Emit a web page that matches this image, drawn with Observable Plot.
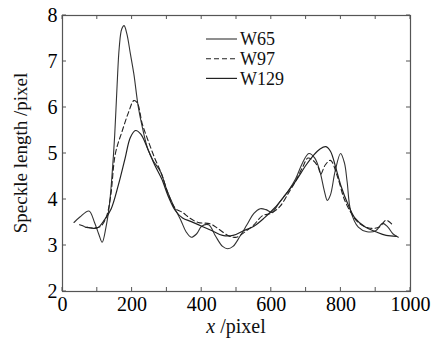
<!DOCTYPE html>
<html>
<head>
<meta charset="utf-8">
<script src="https://cdn.jsdelivr.net/npm/d3@7"></script>
<script src="https://cdn.jsdelivr.net/npm/@observablehq/plot@0.6"></script>
<style>
  html, body { margin: 0; padding: 0; background: #fff; }
</style>
</head>
<body>
<div id="chart"></div>
<script>
const seriesNames = ["W65", "W97", "W129"];

const w65X = [33,50,76,92,104,114,125,135,143,150,157,163,170,177,185,195,205,218,230,245,260,282,300,320,340,355,370,385,400,420,440,460,475,490,510,530,550,568,585,602,620,650,670,690,708,725,740,752,761,770,783,799,810,818,828,850,875,900,920,935,950,965];
const w65Y = [3.50,3.62,3.75,3.50,3.25,3.07,3.40,3.90,4.60,5.40,6.50,7.30,7.70,7.78,7.60,7.17,6.73,6.00,5.55,5.10,4.85,4.60,4.20,3.85,3.55,3.30,3.18,3.25,3.42,3.45,3.20,2.98,2.93,2.98,3.20,3.45,3.70,3.80,3.78,3.72,3.90,4.20,4.45,4.80,5.00,4.90,4.60,4.20,3.98,4.10,4.60,5.00,4.80,4.38,3.76,3.40,3.30,3.32,3.48,3.40,3.25,3.18];

const w97X = [49,70,90,110,125,138,152,172,190,205,215,229,245,265,285,305,325,345,365,390,425,450,480,500,525,550,575,600,625,650,670,690,705,720,735,742,755,770,790,810,830,850,880,910,930,948];
const w97Y = [3.45,3.40,3.38,3.42,3.60,4.05,5.00,5.50,5.90,6.15,6.10,5.65,5.30,4.90,4.55,4.10,3.80,3.72,3.60,3.50,3.47,3.35,3.20,3.18,3.30,3.45,3.65,3.70,3.85,4.15,4.40,4.70,4.90,4.85,4.70,4.55,4.75,4.85,4.50,4.00,3.70,3.50,3.38,3.40,3.55,3.45];

const w129X = [65,80,100,120,140,160,180,195,210,225,245,265,285,305,325,345,370,400,430,460,490,520,550,580,610,640,670,700,720,740,757,770,785,800,820,840,870,900,930,960];
const w129Y = [3.40,3.38,3.38,3.55,3.80,4.30,4.90,5.35,5.50,5.42,5.10,4.75,4.45,4.05,3.75,3.60,3.52,3.42,3.32,3.22,3.22,3.32,3.42,3.60,3.82,4.10,4.40,4.75,4.95,5.10,5.15,5.05,4.70,4.30,3.90,3.60,3.40,3.30,3.22,3.20];

const xLabelTicks = [0, 200, 400, 600, 800, 1000];
const xMinorTicks = [0, 100, 200, 300, 400, 500, 600, 700, 800, 900, 1000];
const yTicks = [2, 3, 4, 5, 6, 7, 8];

const toRows = (xs, ys, name) => xs.map((x, i) => ({x, y: ys[i], series: name}));
const rows65 = toRows(w65X, w65Y, seriesNames[0]);
const rows97 = toRows(w97X, w97Y, seriesNames[1]);
const rows129 = toRows(w129X, w129Y, seriesNames[2]);

const FONT = "Liberation Serif";
const ink = "#222";
const styles = {
  W65: {stroke: "#333", strokeWidth: 1.1, dash: null},
  W97: {stroke: ink, strokeWidth: 1.1, dash: "5,3"},
  W129: {stroke: ink, strokeWidth: 1.2, dash: null}
};

const lineMark = (rows, name) => Plot.line(rows, {
  x: "x", y: "y", curve: "catmull-rom",
  stroke: styles[name].stroke, strokeWidth: styles[name].strokeWidth,
  strokeDasharray: styles[name].dash
});

const plot = Plot.plot({
  width: 442,
  height: 339,
  marginLeft: 62,
  marginRight: 32,
  marginTop: 15,
  marginBottom: 48,
  style: {fontFamily: FONT, fontSize: "20px"},
  x: {domain: [0, 1000]},
  y: {domain: [2, 8]},
  marks: [
    Plot.axisX({ticks: xLabelTicks, tickSize: 0, tickPadding: 5, label: null, fontSize: 20, tickFormat: d3.format("d")}),
    Plot.axisY({ticks: yTicks, tickSize: 0, tickPadding: 5, label: null, fontSize: 20, tickFormat: d3.format("d")}),
    lineMark(rows65, "W65"),
    lineMark(rows97, "W97"),
    lineMark(rows129, "W129"),
    Plot.frame({stroke: "#555", strokeWidth: 1.2})
  ]
});

const svg = d3.select(plot);
const sx = plot.scale("x"), sy = plot.scale("y");
const X = v => sx.apply(v), Y = v => sy.apply(v);
const [x0, x1] = [X(0), X(1000)];
const [yb, yt] = [Y(2), Y(8)];
const tl = 4;
const g = svg.append("g").attr("stroke", "#555").attr("stroke-width", 1);
xMinorTicks.forEach(v => {
  g.append("line").attr("x1", X(v)).attr("x2", X(v)).attr("y1", yb).attr("y2", yb - tl);
  g.append("line").attr("x1", X(v)).attr("x2", X(v)).attr("y1", yt).attr("y2", yt + tl);
});
yTicks.forEach(v => {
  g.append("line").attr("x1", x0).attr("x2", x0 + tl).attr("y1", Y(v)).attr("y2", Y(v));
  g.append("line").attr("x1", x1).attr("x2", x1 - tl).attr("y1", Y(v)).attr("y2", Y(v));
});

const xt = svg.append("text").attr("x", (x0 + x1) / 2).attr("y", 333)
  .attr("text-anchor", "middle").attr("font-size", 20).attr("fill", "#111").attr("font-family", FONT);
xt.append("tspan").attr("font-style", "italic").text("x");
xt.append("tspan").text(" /pixel");
svg.append("text").attr("transform", `translate(27,${(yb + yt) / 2}) rotate(-90)`)
  .attr("text-anchor", "middle").attr("font-size", 19).attr("fill", "#111").attr("font-family", FONT)
  .text("Speckle length /pixel");

const lg = svg.append("g");
seriesNames.forEach((name, i) => {
  const yy = 39 + i * 19.7;
  lg.append("line").attr("x1", 206).attr("x2", 237).attr("y1", yy).attr("y2", yy)
    .attr("stroke", styles[name].stroke).attr("stroke-width", styles[name].strokeWidth)
    .attr("stroke-dasharray", styles[name].dash);
  lg.append("text").attr("x", 240).attr("y", yy).attr("dy", "0.35em").attr("text-anchor", "start")
    .attr("font-size", 18).attr("fill", "#111").attr("font-family", FONT).text(name);
});

document.getElementById("chart").appendChild(plot);
</script>
</body>
</html>
